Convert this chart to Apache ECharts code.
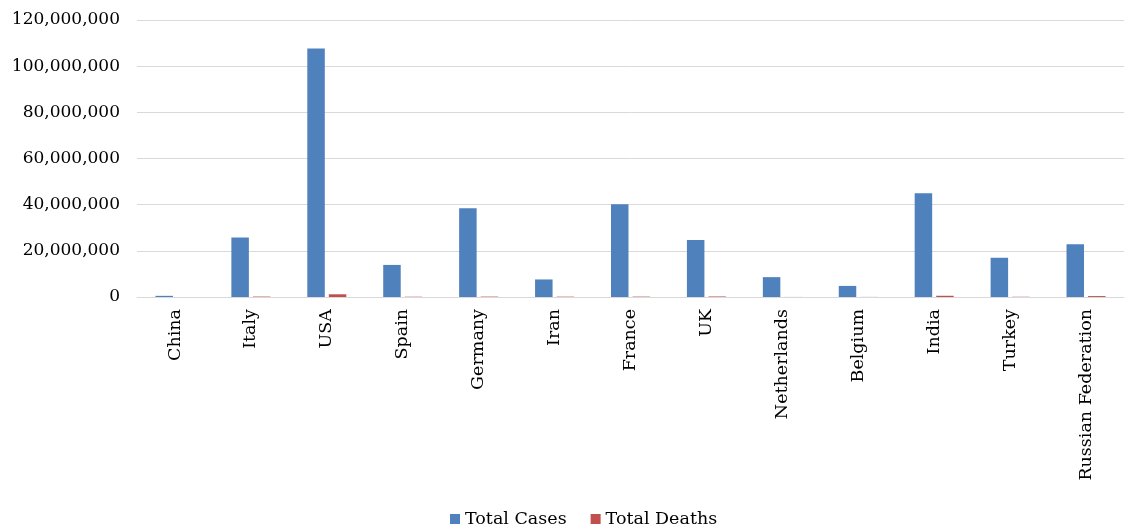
<!DOCTYPE html>
<html><head><meta charset="utf-8">
<script src="https://cdn.jsdelivr.net/npm/echarts@6/dist/echarts.min.js"></script>
<style>html,body{margin:0;padding:0;background:#fff}#c{width:1124px;height:530px}</style>
</head><body><div id="c"></div>
<script>
var categories = ["China","Italy","USA","Spain","Germany","Iran","France","UK","Netherlands","Belgium","India","Turkey","Russian Federation"];
var totalCases = [503000,25800000,107700000,13900000,38500000,7600000,40200000,24700000,8600000,4800000,45000000,17000000,22900000];
var totalDeaths = [5300,190000,1170000,120000,174000,146000,167000,230000,23000,34000,532000,101000,400000];
var yTicks = {min:0, max:120000000, interval:20000000};
var FONT = "DejaVu Serif";
var chart = echarts.init(document.getElementById('c'));
chart.setOption({
  animation:false,
  textStyle:{fontFamily:FONT},
  grid:{left:137,right:-6,top:20,bottom:233,containLabel:false},
  legend:{top:505,left:445,itemWidth:10,itemHeight:10,itemGap:24,icon:'rect',
    textStyle:{fontFamily:FONT,fontSize:17.5,color:'#000'},data:['Total Cases','Total Deaths']},
  xAxis:{type:'category',data:categories,
    axisLine:{lineStyle:{color:'#d9d9d9',width:1}},axisTick:{show:false},
    axisLabel:{rotate:90,interval:0,fontFamily:FONT,fontSize:17.5,color:'#000',margin:12}},
  yAxis:{type:'value',min:yTicks.min,max:yTicks.max,interval:yTicks.interval,
    axisLine:{show:false},axisTick:{show:false},
    splitLine:{lineStyle:{color:'#d9d9d9'}},
    axisLabel:{fontFamily:FONT,fontSize:17,color:'#000',margin:17,
      formatter:function(v){return v.toLocaleString('en-US');}}},
  series:[
    {name:'Total Cases',type:'bar',data:totalCases,barWidth:17.5,barGap:'23%',itemStyle:{color:'#4f81bd'}},
    {name:'Total Deaths',type:'bar',data:totalDeaths,barWidth:17.5,itemStyle:{color:'#c0504d'}}
  ]
});
</script></body></html>
